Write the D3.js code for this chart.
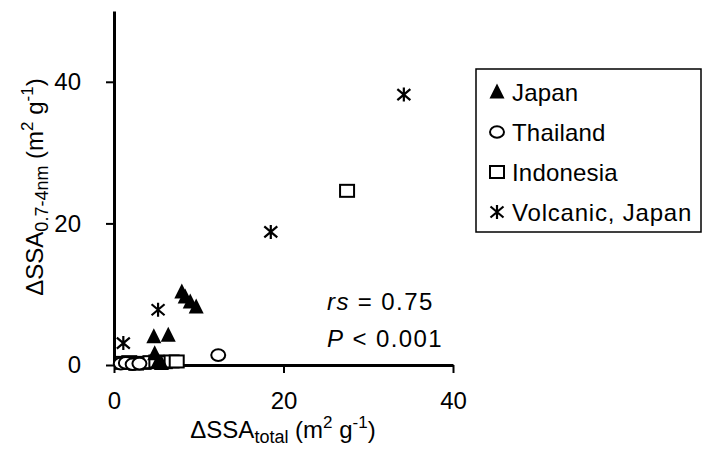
<!DOCTYPE html>
<html>
<head>
<meta charset="utf-8">
<script src="https://cdn.jsdelivr.net/npm/d3@7"></script>
<style>
  body { margin: 0; background: #fff; }
  text { font-family: "Liberation Sans", Arial, sans-serif; fill: #000; }
</style>
</head>
<body>
<div id="chart"></div>
<script>
const width = 704;
const height = 451;

// values: [ΔSSA total, ΔSSA 0.7-4nm]
const japan = [[8.0, 10.3], [8.4, 9.6], [9.0, 8.9], [9.7, 8.2], [4.7, 4.0], [6.4, 4.2], [4.8, 1.6], [5.2, 0.5], [5.6, 0.2]];
const thailand = [[12.3, 1.4], [0.8, 0.2], [1.4, 0.3], [2.2, 0.1], [3.0, 0.2]];
const indonesia = [[27.5, 24.6], [1.0, 0.3], [1.8, 0.4], [2.6, 0.2], [3.5, 0.3], [4.3, 0.4], [5.0, 0.5], [6.0, 0.4], [6.8, 0.5], [7.4, 0.5]];
const volcanic = [[34.2, 38.2], [18.5, 18.8], [5.2, 7.8], [1.1, 3.1]];

const xTicks = [0, 20, 40];
const yTicks = [0, 20, 40];
const legendNames = ["Japan", "Thailand", "Indonesia", "Volcanic, Japan"];

const x = d3.scaleLinear().domain([0, 40]).range([114, 453]);
const y = d3.scaleLinear().domain([0, 50]).range([365, 11]);

const svg = d3.select("#chart").append("svg")
    .attr("width", width)
    .attr("height", height);

// axes
const xAxis = svg.append("g")
    .attr("transform", `translate(0,${y(0)})`)
    .call(d3.axisBottom(x).tickValues(xTicks).tickSize(8).tickPadding(19).tickSizeOuter(0));
const yAxis = svg.append("g")
    .attr("transform", `translate(${x(0)},0)`)
    .call(d3.axisLeft(y).tickValues(yTicks).tickSize(8).tickPadding(25).tickSizeOuter(0));

[xAxis, yAxis].forEach(a => {
    a.select(".domain").attr("stroke", "#000").attr("stroke-width", 3);
    a.selectAll(".tick line").attr("stroke", "#000").attr("stroke-width", 2);
    a.selectAll(".tick text")
        .attr("font-family", "Liberation Sans, Arial, sans-serif")
        .attr("font-size", 24)
        .attr("fill", "#000");
});

// marker drawing
function drawMarker(g, kind, cx, cy) {
    if (kind === "tri") {
        g.append("path")
            .attr("d", `M${cx},${cy - 8.5}L${cx + 7.5},${cy + 6.5}L${cx - 7.5},${cy + 6.5}Z`)
            .attr("fill", "#000");
    } else if (kind === "circle") {
        g.append("ellipse")
            .attr("cx", cx).attr("cy", cy).attr("rx", 7).attr("ry", 5.8)
            .attr("fill", "#fff").attr("stroke", "#000").attr("stroke-width", 2);
    } else if (kind === "square") {
        g.append("rect")
            .attr("x", cx - 7).attr("y", cy - 6).attr("width", 14).attr("height", 12)
            .attr("fill", "#fff").attr("stroke", "#000").attr("stroke-width", 2);
    } else {
        g.append("path")
            .attr("d", `M${cx - 6.5},${cy - 5.5}L${cx + 6.5},${cy + 5.5}M${cx + 6.5},${cy - 5.5}L${cx - 6.5},${cy + 5.5}M${cx},${cy - 7}L${cx},${cy + 7}`)
            .attr("stroke", "#000").attr("stroke-width", 2.2).attr("fill", "none");
    }
}

const series = [
    { data: indonesia, kind: "square" },
    { data: thailand, kind: "circle" },
    { data: japan, kind: "tri" },
    { data: volcanic, kind: "star" }
];

const marks = svg.append("g");
series.forEach(s => {
    s.data.forEach(d => drawMarker(marks, s.kind, x(d[0]), y(d[1])));
});

// axis titles with sub/superscripts
function title(t) {
    t.append("tspan").text("ΔSSA");
    return t;
}
const xt = title(svg.append("text")
    .attr("x", 283).attr("y", 438)
    .attr("text-anchor", "middle")
    .attr("font-size", 24));
xt.append("tspan").attr("font-size", 18).attr("dy", 5).text("total");
xt.append("tspan").attr("dy", -5).text(" (m");
xt.append("tspan").attr("font-size", 17).attr("dy", -10).text("2");
xt.append("tspan").attr("dy", 10).text(" g");
xt.append("tspan").attr("font-size", 17).attr("dy", -10).text("-1");
xt.append("tspan").attr("dy", 10).text(")");

const yt = title(svg.append("text")
    .attr("transform", "translate(43,187) rotate(-90)")
    .attr("text-anchor", "middle")
    .attr("font-size", 24));
yt.append("tspan").attr("font-size", 18).attr("dy", 5).text("0.7-4nm");
yt.append("tspan").attr("dy", -5).text(" (m");
yt.append("tspan").attr("font-size", 17).attr("dy", -10).text("2");
yt.append("tspan").attr("dy", 10).text(" g");
yt.append("tspan").attr("font-size", 17).attr("dy", -10).text("-1");
yt.append("tspan").attr("dy", 10).text(")");

// statistics note
const s1 = svg.append("text").attr("x", 327).attr("y", 310)
    .attr("font-size", 24).attr("letter-spacing", 1.4);
s1.append("tspan").attr("font-style", "italic").text("rs");
s1.append("tspan").text(" = 0.75");
const s2 = svg.append("text").attr("x", 327).attr("y", 347)
    .attr("font-size", 24).attr("letter-spacing", 1.4);
s2.append("tspan").attr("font-style", "italic").text("P");
s2.append("tspan").text(" < 0.001");

// legend
const legend = svg.append("g");
legend.append("rect")
    .attr("x", 476).attr("y", 69).attr("width", 225).attr("height", 163)
    .attr("fill", "#fff").attr("stroke", "#000").attr("stroke-width", 1.5);
const legendKinds = ["tri", "circle", "square", "star"];
legendNames.forEach((name, i) => {
    const base = 101 + i * 40;
    drawMarker(legend, legendKinds[i], 497, base - 9);
    legend.append("text")
        .attr("x", 512).attr("y", base)
        .attr("font-size", 24)
        .attr("letter-spacing", i === 3 ? 0.8 : 0.2)
        .text(name);
});
</script>
</body>
</html>
